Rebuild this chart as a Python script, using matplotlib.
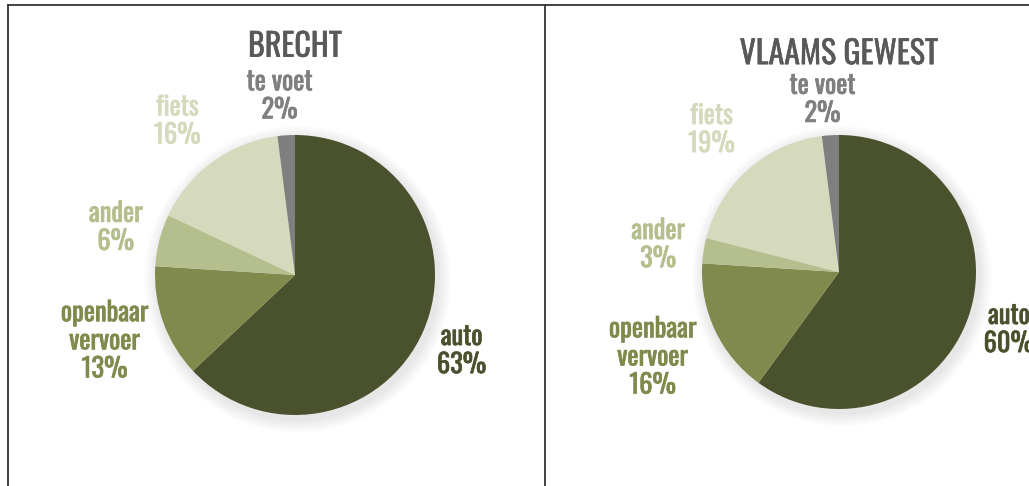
import matplotlib
matplotlib.use("Agg")
import matplotlib.pyplot as plt
import matplotlib.patheffects as pe
from matplotlib.lines import Line2D
from matplotlib.patches import Circle

categories = ["auto", "openbaar\nvervoer", "ander", "fiets", "te voet"]
brecht = [63, 13, 6, 16, 2]
vlaams = [60, 16, 3, 19, 2]
titles = ["BRECHT", "VLAAMS GEWEST"]

colors = ["#4a522d", "#7f8a4c", "#b4bf8d", "#d5dabd", "#7f7f7f"]
label_colors = ["#4a522d", "#7f8a4c", "#b4bf8d", "#d5dabd", "#7f7f7f"]

W, H = 1029, 486
fig = plt.figure(figsize=(W / 100, H / 100), dpi=100)
fig.patch.set_facecolor("white")

FONT = ["Oswald", "DejaVu Sans"]

# panel settings: pixel box, pie centre, radius, label offsets (in radii)
panels = [
    dict(values=brecht, title=titles[0], box=(8, 545), centre=(295, 275), r=140,
         title_pos=(0.0, 1.63),
         label_pos=[(1.19, -0.54), (-1.36, -0.47), (-1.28, 0.34), (-0.84, 1.10), (-0.11, 1.28)]),
    dict(values=vlaams, title=titles[1], box=(545, 1029), centre=(839, 272), r=137,
         title_pos=(0.0, 1.59),
         label_pos=[(1.24, -0.42), (-1.36, -0.62), (-1.32, 0.20), (-0.93, 1.04), (-0.12, 1.26)]),
]

for p in panels:
    x0, x1 = p["box"]
    cx, cy = p["centre"]
    r = p["r"]
    ax = fig.add_axes([x0 / W, 0, (x1 - x0) / W, 1])

    # soft shadow around the pie
    for i in range(8):
        ax.add_patch(Circle((0.02, -0.03), 1.0 + 0.012 * (8 - i), color="black",
                            alpha=0.012, lw=0, zorder=0))

    ax.pie(p["values"], colors=colors, startangle=90, counterclock=False,
           radius=1.0, wedgeprops=dict(linewidth=0, zorder=1))

    ax.set_aspect("equal")
    ax.set_xlim((x0 - cx) / r, (x1 - cx) / r)
    ax.set_ylim(-(H - cy) / r, cy / r)
    ax.axis("off")

    ax.text(p["title_pos"][0], p["title_pos"][1], p["title"], ha="center", va="center",
            fontsize=23, color="#595959", family=FONT,
            path_effects=[pe.withStroke(linewidth=0.3, foreground="#595959")])

    for cat, val, (lx, ly), col in zip(categories, p["values"], p["label_pos"], label_colors):
        ax.text(lx, ly, f"{cat}\n{val}%", ha="center", va="center", fontsize=19,
                color=col, family=FONT, linespacing=1.05,
                path_effects=[pe.withStroke(linewidth=0.5, foreground=col)])

# table borders
fig.add_artist(Line2D([8 / W, 1], [1 - 5 / H, 1 - 5 / H], color="#333333", lw=1.3))
fig.add_artist(Line2D([8 / W, 8 / W], [0, 1 - 5 / H], color="#333333", lw=1.3))
fig.add_artist(Line2D([545 / W, 545 / W], [0, 1 - 5 / H], color="#333333", lw=1.3))

fig.savefig("out.png", dpi=100, facecolor="white")
